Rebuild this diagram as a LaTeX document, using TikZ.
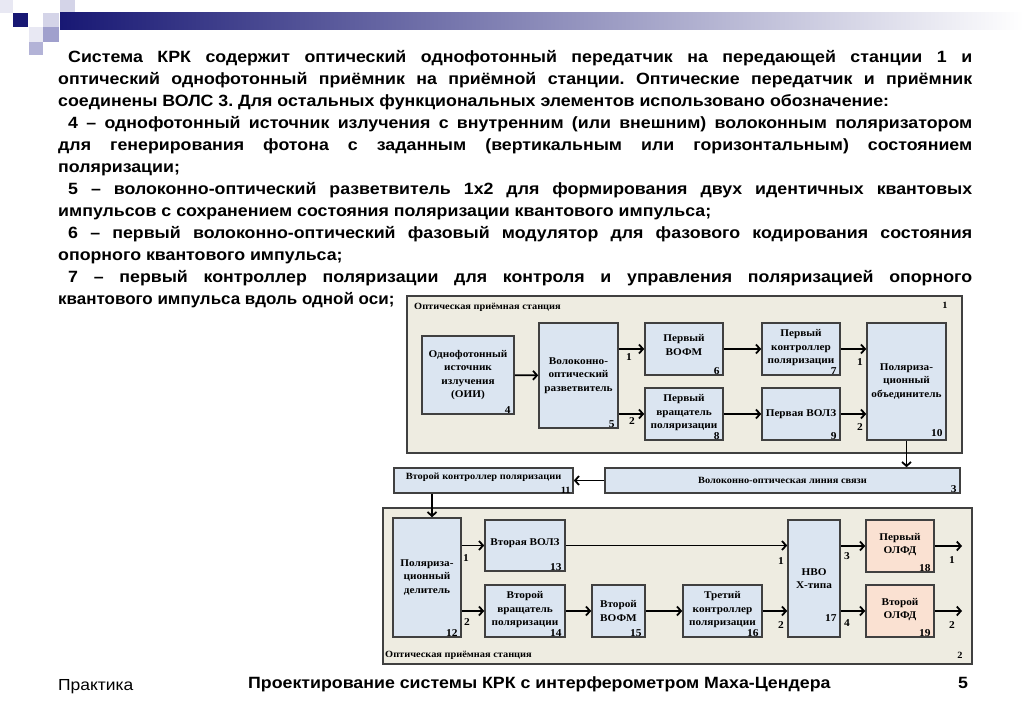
\documentclass[tikz,border=0pt]{standalone}
\usepackage{fontspec}
\setmainfont{Liberation Sans}
\newfontfamily\slidefont{Liberation Sans}[FakeStretch=1.09]
\newfontfamily\diagfont{Liberation Serif}[FakeStretch=1.09]
\usetikzlibrary{positioning,arrows.meta}
\usepackage{xcolor}
\frenchspacing
\definecolor{SlideNavy}{RGB}{24,24,116}
\definecolor{SqPale}{RGB}{232,232,243}
\definecolor{SqLight}{RGB}{212,212,232}
\definecolor{SqMid}{RGB}{160,160,205}
\definecolor{BoxBlue}{RGB}{219,229,241}
\definecolor{BoxPeach}{RGB}{250,225,210}
\definecolor{StationTan}{RGB}{238,236,225}
\definecolor{EdgeGray}{RGB}{64,64,64}

\begin{document}
\begin{tikzpicture}[x=1pt,y=-1pt,
block/.style={rectangle,draw=EdgeGray,fill=BoxBlue,line width=1.6pt,align=center,inner sep=1pt,
font=\diagfont\bfseries\fontsize{10.3}{13.4}\selectfont},
peach/.style={block,fill=BoxPeach},
station/.style={rectangle,draw=EdgeGray,fill=StationTan,line width=2.6pt},
num/.style={anchor=south east,inner xsep=4pt,inner ysep=0.8pt,font=\diagfont\bfseries\fontsize{10.5}{12}\selectfont},
port/.style={inner sep=0pt,font=\diagfont\bfseries\fontsize{10.5}{12}\selectfont},
tag/.style={inner sep=0pt,font=\diagfont\bfseries\fontsize{9.5}{11}\selectfont},
arrow/.style={-{Straight Barb[length=4pt,width=9pt]},line width=1.8pt},
textline/.style={anchor=base west,inner sep=0pt,font=\slidefont\bfseries\fontsize{16.3}{20}\selectfont},
footline/.style={anchor=base west,inner sep=0pt,font=\slidefont\fontsize{16}{20}\selectfont}
]
\useasboundingbox[fill=white] (0,0) rectangle (1024,708);

% slide header
\fill[SqPale] (0,0) rectangle (13,13);
\fill[SqLight] (60,0) rectangle (75,13);
\fill[SlideNavy] (13,13) rectangle (28,27);
\fill[SqLight] (43,13) rectangle (59,27);
\fill[SqPale] (29,27) rectangle (43,42);
\fill[SqMid] (43,27) rectangle (59,42);
\fill[SqMid!80] (29,42) rectangle (43,55);
\shade[left color=SlideNavy,right color=white] (60,13) rectangle (1024,30);

% text
\node[textline] (p1) at (68,63) {\makebox[904pt][s]{Система КРК содержит оптический однофотонный передатчик на передающей станции 1 и}};
\node[textline] (p2) at (58,85) {\makebox[914pt][s]{оптический однофотонный приёмник на приёмной станции. Оптические передатчик и приёмник}};
\node[textline] (p3) at (58,107) {соединены ВОЛС 3. Для остальных функциональных элементов использовано обозначение:};
\node[textline] (p4) at (68,129) {\makebox[904pt][s]{4 – однофотонный источник излучения с внутренним (или внешним) волоконным поляризатором}};
\node[textline] (p5) at (58,151) {\makebox[914pt][s]{для генерирования фотона с заданным (вертикальным или горизонтальным) состоянием}};
\node[textline] (p6) at (58,173) {поляризации;};
\node[textline] (p7) at (68,195) {\makebox[904pt][s]{5 – волоконно-оптический разветвитель 1х2 для формирования двух идентичных квантовых}};
\node[textline] (p8) at (58,217) {импульсов с сохранением состояния поляризации квантового импульса;};
\node[textline] (p9) at (68,239) {\makebox[904pt][s]{6 – первый волоконно-оптический фазовый модулятор для фазового кодирования состояния}};
\node[textline] (p10) at (58,261) {опорного квантового импульса;};
\node[textline] (p11) at (68,283) {\makebox[904pt][s]{7 – первый контроллер поляризации для контроля и управления поляризацией опорного}};
\node[textline] (p12) at (58,305) {\scalebox{0.955}[1]{квантового импульса вдоль одной оси;}};

% transmitting station
\node[station,minimum width=555,minimum height=157] (st1) at (684.5,374.5) {};
\node[tag,anchor=west] (st1t) at (414,307) {Оптическая приёмная станция};
\node[tag] (st1n) at (945,305) {1};

\node[block,minimum width=92,minimum height=78] (n4) at (468,375) {Однофотонный\\источник\\излучения\\(ОИИ)};
\node[block,minimum width=79,minimum height=105] (n5) at (578.5,375.5) {Волоконно-\\оптический\\разветвитель};
\node[block,minimum width=78,minimum height=52,text depth=8pt] (n6) at (684,349) {Первый\\ВОФМ};
\node[block,minimum width=78,minimum height=52,text depth=5pt] (n8) at (684,414) {Первый\\вращатель\\поляризации};
\node[block,minimum width=78,minimum height=52,text depth=5pt] (n7) at (801,349) {Первый\\контроллер\\поляризации};
\node[block,minimum width=78,minimum height=52] (n9) at (801,414) {Первая ВОЛЗ};
\node[block,minimum width=79,minimum height=117] (n10) at (906.5,381.5) {Поляриза-\\ционный\\объединитель};
\node[num] (k4) at (n4.south east) {4};
\node[num] (k5) at (n5.south east) {5};
\node[num] (k6) at (n6.south east) {6};
\node[num] (k7) at (n7.south east) {7};
\node[num] (k8) at (n8.south east) {8};
\node[num] (k9) at (n9.south east) {9};
\node[num,yshift=3pt] (k10) at (n10.south east) {10};

\draw[arrow] (n4) -- (n5);
\draw[arrow] (n5.east |- n6) -- (n6);
\draw[arrow] (n5.east |- n8) -- (n8);
\draw[arrow] (n6) -- (n7);
\draw[arrow] (n8) -- (n9);
\draw[arrow] (n7) -- (n10.west |- n7);
\draw[arrow] (n9) -- (n10.west |- n9);
\node[port] (a1) at (629,357) {1};
\node[port] (a2) at (632,421) {2};
\node[port] (a3) at (860,362) {1};
\node[port] (a4) at (860,427) {2};

% fibre link
\node[block,minimum width=355,minimum height=25,font=\diagfont\bfseries\fontsize{9.5}{11}\selectfont] (n3) at (782.5,480.5) {Волоконно-оптическая линия связи};
\node[block,minimum width=179,minimum height=25,font=\diagfont\bfseries\fontsize{9.5}{11}\selectfont,text height=7pt,text depth=9pt] (n11) at (483.5,480.5) {Второй контроллер поляризации};
\node[num] (k3) at (n3.south east) {3};
\node[num,inner ysep=0.5pt,inner xsep=3pt,font=\diagfont\bfseries\fontsize{9.5}{11}\selectfont] (k11) at (n11.south east) {11};
\draw[arrow] (n10.south) -- (n10.south |- n3.north);
\draw[arrow] (n3) -- (n11);

% receiving station
\node[station,minimum width=589,minimum height=156] (st2) at (677.5,586) {};
\node[tag,anchor=west] (st2t) at (385,655) {Оптическая приёмная станция};
\node[tag] (st2n) at (960,655) {2};

\node[block,minimum width=68,minimum height=119] (n12) at (427,577.5) {Поляриза-\\ционный\\делитель};
\node[block,minimum width=80,minimum height=51,text depth=6pt] (n13) at (525,545.5) {Вторая ВОЛЗ};
\node[block,minimum width=80,minimum height=52,text depth=5pt] (n14) at (525,611) {Второй\\вращатель\\поляризации};
\node[block,minimum width=53,minimum height=52] (n15) at (618.5,611) {Второй\\ВОФМ};
\node[block,minimum width=79,minimum height=52,text depth=5pt] (n16) at (722.5,611) {Третий\\контроллер\\поляризации};
\node[block,minimum width=52,minimum height=117] (n17) at (814,578.5) {НВО\\X-типа};
\node[peach,minimum width=68,minimum height=52,text depth=5pt] (n18) at (900,546) {Первый\\ОЛФД};
\node[peach,minimum width=68,minimum height=52,text depth=5pt] (n19) at (900,611) {Второй\\ОЛФД};
\node[num] (k12) at (n12.south east) {12};
\node[num] (k13) at (n13.south east) {13};
\node[num] (k14) at (n14.south east) {14};
\node[num] (k15) at (n15.south east) {15};
\node[num] (k16) at (n16.south east) {16};
\node[num,yshift=15pt] (k17) at (n17.south east) {17};
\node[num] (k18) at (n18.south east) {18};
\node[num] (k19) at (n19.south east) {19};

\coordinate (drop) at ([xshift=5]n12.north);
\coordinate (out1) at (962,546);
\coordinate (out2) at (962,611);
\draw[arrow] (n11.south -| drop) -- (drop);
\draw[arrow] (n12.east |- n13) -- (n13);
\draw[arrow] (n12.east |- n14) -- (n14);
\draw[arrow] (n13) -- (n17.west |- n13);
\draw[arrow] (n14) -- (n15);
\draw[arrow] (n15) -- (n16);
\draw[arrow] (n16) -- (n17.west |- n16);
\draw[arrow] (n17.east |- n18) -- (n18);
\draw[arrow] (n17.east |- n19) -- (n19);
\draw[arrow] (n18) -- (out1);
\draw[arrow] (n19) -- (out2);
\node[port] (b1) at (466,558) {1};
\node[port] (b2) at (467,622) {2};
\node[port] (b3) at (781,561) {1};
\node[port] (b4) at (781,625) {2};
\node[port] (b5) at (847,556) {3};
\node[port] (b6) at (847,623) {4};
\node[port] (b7) at (952,560) {1};
\node[port] (b8) at (952,625) {2};

% footer
\node[footline] (f1) at (58,690) {Практика};
\node[footline,font=\slidefont\bfseries\fontsize{16.3}{20}\selectfont] (f2) at (248,688) {Проектирование системы КРК с интерферометром Маха-Цендера};
\node[footline,font=\slidefont\bfseries\fontsize{16.3}{20}\selectfont] (f3) at (958,688) {5};
\end{tikzpicture}
\end{document}
